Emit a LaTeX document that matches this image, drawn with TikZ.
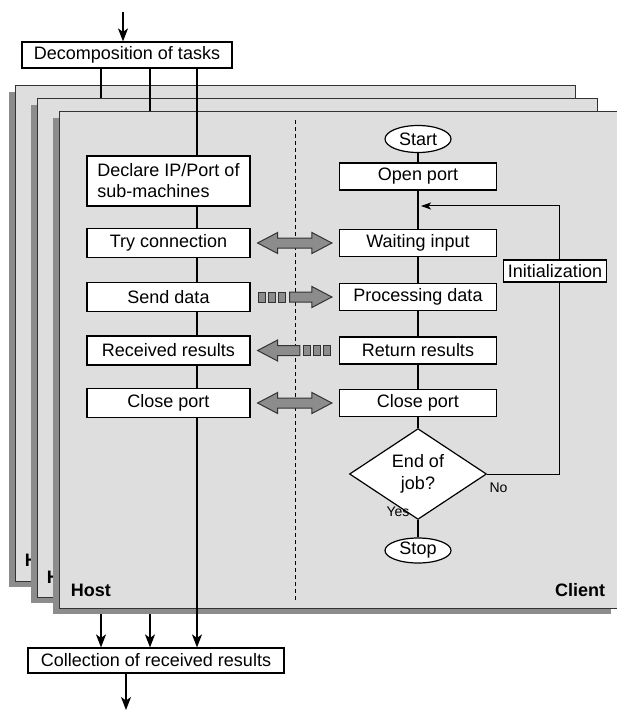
\documentclass[tikz,border=0pt]{standalone}
\usepackage{fontspec}
\setmainfont{Liberation Sans}
\usepackage{tikz}
\usetikzlibrary{shapes.geometric,arrows.meta,calc}

\definecolor{panel}{HTML}{DEDEDE}
\definecolor{shade}{HTML}{8C8C8C}
\definecolor{edge}{HTML}{333333}

% big grey arrows between host and client
\newcommand{\twoway}[2]{%
  \draw[fatarrow] let \p1=#1, \p2=#2, \n1={\x2-\x1-40} in
    (\p1) -- ++(20,-10.5) -- ++(0,5.5) -- ++(\n1,0) -- ++(0,-5.5) -- (\x2,\y1)
    -- ++(-20,10.5) -- ++(0,-5.5) -- ++(-\n1,0) -- ++(0,5.5) -- cycle;}
\newcommand{\oneway}[2]{%
  \draw[fatarrow] let \p1=#1, \p2=#2, \n1={\x2-\x1}, \n2={20*sign(\n1)} in
    ($(\p1)+(0,-5)$) -- ++({\n1-\n2},0) -- ++(0,-5.5) -- (\x2,\y1)
    -- ++({-\n2},10.5) -- ++(0,-5.5) -- ++({\n2-\n1},0) -- cycle;}
\newcommand{\ticks}[1]{%
  \foreach \i in {0,10,20} \draw[fatarrow] ($#1+(\i,-5)$) rectangle ++(6.7,10);}

\begin{document}
\begin{tikzpicture}[x=1pt,y=-1pt,line width=1.2pt,
  every node/.style={font=\fontsize{18}{21}\selectfont},
  box/.style={shape=rectangle,draw,fill=white,inner sep=0pt,minimum height=29pt},
  hostbox/.style={box,minimum width=163pt},
  clientbox/.style={box,minimum width=157pt,minimum height=27pt},
  term/.style={shape=ellipse,draw,fill=white,inner sep=0pt,minimum width=66pt,minimum height=27pt},
  panelbox/.style={draw=edge,fill=panel,line width=1pt},
  panelshade/.style={fill=shade},
  fatarrow/.style={draw=edge,fill=shade,line width=1pt},
  tag/.style={anchor=west,font=\bfseries\fontsize{18}{21}\selectfont},
  small/.style={font=\fontsize{14}{16}\selectfont},
  >={Stealth[length=13pt,width=10pt,inset=3.5pt]}]
\useasboundingbox (0,0) rectangle (616,711);

\path (127,55) node (dec) [box,minimum width=210pt,minimum height=26pt] {Decomposition of tasks};
\path (156,660.5) node (col) [box,minimum width=256pt,minimum height=25pt] {Collection of received results};
\coordinate (h1) at (101,0);
\coordinate (h2) at (150,0);
\coordinate (h3) at (197,0);
\coordinate (top) at (123,12);
\coordinate (bot) at (126,710);
\draw [->] (top) to (top |- dec.north);
\draw [->] (col.south -| bot) to (bot);

\fill[panelshade] (9,92) rectangle (569,587);
\draw[panelbox] (15,86) rectangle (575,581);
\path (21,560) node [tag] {H};
\draw [->] (dec.south -| h1) to (col.north -| h1);

\fill[panelshade] (31,105) rectangle (591,603);
\draw[panelbox] (37,99) rectangle (597,597);
\path (43,577) node [tag] {H};
\draw [->] (dec.south -| h2) to (col.north -| h2);

\fill[panelshade] (53,118) rectangle (611,614);
\draw[panelbox] (59,112) rectangle (618,608);
\path (67,590) node [tag] {Host};
\path (609,590) node [tag,anchor=east] {Client};
\draw[line width=1pt,dash pattern=on 4pt off 3pt] (295,120) -- (295,600);

\path (168.5,181) node (declare) [hostbox,minimum height=50pt,align=left] {Declare IP/Port of\\sub-machines};
\path (168.5,243) node (try) [hostbox] {Try connection};
\path (168.5,297) node (send) [hostbox] {Send data};
\path (168.5,350.5) node (recv) [hostbox] {Received results};
\path (168.5,403) node (closeh) [hostbox] {Close port};

\draw (dec.south -| h3) to (declare.north -| h3);
\foreach \a/\b in {declare/try,try/send,send/recv,recv/closeh}
  \draw (\a.south -| h3) to (\b.north -| h3);
\draw [->] (closeh.south -| h3) to (col.north -| h3);

\path (418,139) node (start) [term] {Start};
\path (418,176.5) node (open) [clientbox] {Open port};
\path (418,243) node (wait) [clientbox] {Waiting input};
\path (418,297) node (proc) [clientbox] {Processing data};
\path (418,350.5) node (ret) [clientbox] {Return results};
\path (418,403) node (closec) [clientbox] {Close port};
\path (418,474) node (dia) [shape=diamond,draw,fill=white,inner sep=0pt,minimum width=137pt,minimum height=68pt,align=center,font=\fontsize{18}{22}\selectfont] {End of\\job?};
\path (418,550.5) node (stop) [term,minimum height=25pt] {Stop};

\draw (start) to (open);
\draw (open) to (wait);
\draw (wait) to (proc);
\draw (proc) to (ret);
\draw (ret) to (closec);
\draw (closec) to (dia);
\draw (dia) to (stop);

\coordinate (lp) at (559,206);
\coordinate (loopend) at (421,206);
\draw [-{Stealth[length=10pt,width=7pt,inset=2.5pt]},line width=1pt] (dia.east) -| (lp) -- (loopend);
\path (555,271) node (init) [box,minimum width=103pt,minimum height=22pt] {Initialization};
\path (498.5,488) node [small] {No};
\path (398,512) node [small] {Yes};

\twoway{([xshift=7]try.east)}{([xshift=-7]wait.west)}
\ticks{([xshift=8]send.east)}
\oneway{([xshift=39]send.east)}{([xshift=-7]proc.west)}
\oneway{([xshift=-39]ret.west)}{([xshift=7]recv.east)}
\ticks{([xshift=-35]ret.west)}
\twoway{([xshift=7]closeh.east)}{([xshift=-7]closec.west)}
\end{tikzpicture}
\end{document}
